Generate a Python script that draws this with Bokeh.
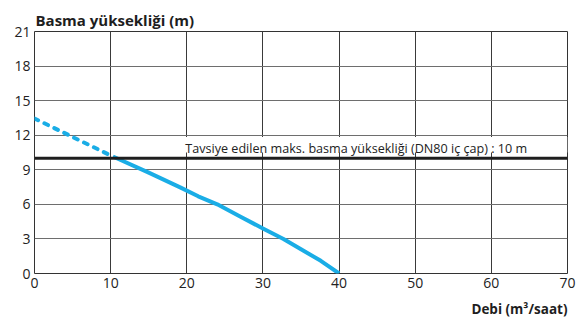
from bokeh.plotting import figure
from bokeh.models import Range1d, FixedTicker, Label, Span, Title
from bokeh.embed import file_html
from bokeh.resources import INLINE

# Data
dashed_x = [0, 10.3]
dashed_y = [13.45, 10.15]
curve_x = [10.3, 15, 19.2, 21.5, 24, 27, 30, 32.7, 35, 37.6, 40]
curve_y = [10.15, 8.75, 7.45, 6.7, 6.0, 4.95, 3.9, 3.0, 2.1, 1.1, 0.0]
x_ticks = [0, 10, 20, 30, 40, 50, 60, 70]
y_ticks = [0, 3, 6, 9, 12, 15, 18, 21]
limit_value = 10
title_text = "Basma yüksekliği (m)"
xlabel_text = "Debi (m³/saat)"
limit_text = "Tavsiye edilen maks. basma yüksekliği (DN80 iç çap)  : 10 m"

FONT = "Open Sans"
BLUE = "#1aade6"

p = figure(width=587, height=325, output_backend="svg", toolbar_location=None,
           x_range=Range1d(0, 70), y_range=Range1d(0, 21),
           min_border_left=34, min_border_right=20, min_border_top=31, min_border_bottom=52)
p.background_fill_color = "white"
p.border_fill_color = "white"
p.outline_line_color = "#333333"
p.outline_line_width = 1

for ax in (p.xaxis[0], p.yaxis[0]):
    ax.axis_line_color = None
    ax.major_tick_line_color = None
    ax.minor_tick_line_color = None
    ax.major_tick_out = 0
    ax.major_tick_in = 0
    ax.minor_tick_out = 0
    ax.major_label_text_font = FONT
    ax.major_label_text_font_size = "14px"
    ax.major_label_text_color = "#222222"
    ax.major_label_standoff = 4
p.xaxis.ticker = FixedTicker(ticks=x_ticks)
p.yaxis.ticker = FixedTicker(ticks=y_ticks)

p.xgrid.ticker = FixedTicker(ticks=x_ticks)
p.ygrid.ticker = FixedTicker(ticks=y_ticks)
p.xgrid.grid_line_color = "#3a3a3a"
p.ygrid.grid_line_color = "#6e6e6e"
p.xgrid.grid_line_width = 1
p.ygrid.grid_line_width = 1

# title
p.title.text = title_text
p.title.align = "left"
p.title.text_font = FONT
p.title.text_font_size = "15px"
p.title.text_font_style = "bold"
p.title.text_color = "#1e1e1e"
p.title.offset = 1
p.title.standoff = 4

# x-axis label as a title below, right aligned
p.add_layout(Title(text=xlabel_text, align="right", text_font=FONT, text_font_size="13.5px",
                   text_font_style="bold", text_color="#1e1e1e", standoff=15), "below")

# white band behind the limit label (drawn as a glyph so it sits above the grid)
p.quad(left=19.5, right=70, bottom=10.5, top=11.85, fill_color="white", line_color=None)

p.add_layout(Span(location=limit_value, dimension="width", line_color="#1e1e1e", line_width=3))

p.line(dashed_x, dashed_y, line_color=BLUE, line_width=4, line_dash="4 7", line_cap="round")
p.line(curve_x, curve_y, line_color=BLUE, line_width=4, line_join="round")

p.add_layout(Label(x=19.8, y=limit_value, y_offset=10, text=limit_text, text_font=FONT,
                   text_font_size="12.6px", text_color="#222222", text_baseline="alphabetic"))

open("out.html", "w").write(file_html(p, INLINE))
